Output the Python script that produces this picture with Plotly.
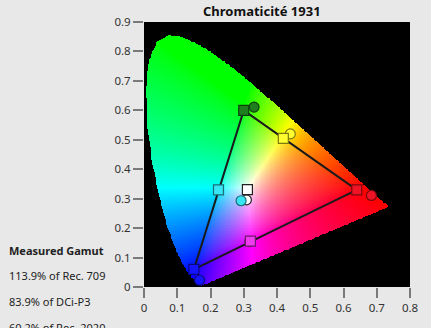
import numpy as np
import plotly.graph_objects as go

# CIE 1931 spectral locus (x, y), 380-700 nm at 5 nm
locus_x = [0.1741,0.1740,0.1738,0.1736,0.1733,0.1730,0.1726,0.1721,0.1714,0.1703,0.1689,0.1669,0.1644,0.1611,0.1566,0.1510,0.1440,0.1355,0.1241,0.1096,0.0913,0.0687,0.0454,0.0235,0.0082,0.0039,0.0139,0.0389,0.0743,0.1142,0.1547,0.1929,0.2296,0.2658,0.3016,0.3373,0.3731,0.4087,0.4441,0.4788,0.5125,0.5448,0.5752,0.6029,0.6270,0.6482,0.6658,0.6801,0.6915,0.7006,0.7079,0.7140,0.7190,0.7230,0.7260,0.7283,0.7300,0.7311,0.7320,0.7327,0.7334,0.7340,0.7344,0.7346,0.7347]
locus_y = [0.0050,0.0050,0.0049,0.0049,0.0048,0.0048,0.0048,0.0048,0.0051,0.0058,0.0069,0.0086,0.0109,0.0138,0.0177,0.0227,0.0297,0.0399,0.0578,0.0868,0.1327,0.2007,0.2950,0.4127,0.5384,0.6548,0.7502,0.8120,0.8338,0.8262,0.8059,0.7816,0.7543,0.7243,0.6923,0.6589,0.6245,0.5896,0.5547,0.5202,0.4866,0.4544,0.4242,0.3965,0.3725,0.3514,0.3340,0.3197,0.3083,0.2993,0.2920,0.2859,0.2809,0.2770,0.2740,0.2717,0.2700,0.2689,0.2680,0.2673,0.2666,0.2660,0.2656,0.2654,0.2653]

# Target (Rec.709) points: squares
target_names = ["Red", "Green", "Blue", "White", "Cyan", "Magenta", "Yellow"]
target_x = [0.640, 0.300, 0.150, 0.311, 0.224, 0.320, 0.419]
target_y = [0.330, 0.600, 0.060, 0.331, 0.330, 0.156, 0.505]
# Measured points: circles
measured_x = [0.684, 0.331, 0.167, 0.308, 0.292, 0.318, 0.440]
measured_y = [0.311, 0.611, 0.023, 0.296, 0.293, 0.154, 0.520]

fill_colors = ["#ee1426", "#1f7f1f", "#1414ff", "#ffffff", "#36e6f2", "#ee3cee", "#ffff30"]
edge_colors = ["#7a0a10", "#0c400c", "#0a0a80", "#222222", "#1a6d78", "#6e1a6e", "#7a7a10"]

# gamut triangle (Rec.709 primaries)
tri_x = [target_x[0], target_x[1], target_x[2], target_x[0]]
tri_y = [target_y[0], target_y[1], target_y[2], target_y[0]]

gamut_labels = ["Measured Gamut", "113.9% of Rec. 709", "83.9% of DCi-P3", "60.2% of Rec. 2020"]

# --- background chromaticity image ---
step = 0.0025
img_y_stretch = 1.027  # the reference backdrop bitmap is drawn slightly taller
gx = np.arange(0, 0.8 + 1e-9, step)
gy = np.arange(0, 0.9 / img_y_stretch + 1e-9, step)
X, Y = np.meshgrid(gx, gy)
px = np.array(locus_x); py = np.array(locus_y)
inside = np.zeros(X.shape, dtype=bool)
n = len(px)
for i in range(n):
    x1, y1 = px[i], py[i]
    x2, y2 = px[(i + 1) % n], py[(i + 1) % n]
    cond = ((y1 > Y) != (y2 > Y))
    with np.errstate(divide="ignore", invalid="ignore"):
        xint = (x2 - x1) * (Y - y1) / (y2 - y1 + 1e-12) + x1
    inside ^= cond & (X < xint)
Ys = np.where(Y > 1e-4, Y, 1e-4)
XX = X / Ys
ZZ = (1 - X - Y) / Ys
R = 3.2406 * XX - 1.5372 + -0.4986 * ZZ
G = -0.9689 * XX + 1.8758 + 0.0415 * ZZ
B = 0.0557 * XX - 0.2040 + 1.0570 * ZZ
rgb = np.stack([R, G, B], axis=-1)
rgb = np.clip(rgb, 0, None)
mx = rgb.max(axis=-1, keepdims=True)
mx[mx == 0] = 1
rgb = rgb / mx
rgb = rgb ** (1 / 1.4)
img = (rgb * 255).astype(np.uint8)
img[~inside] = 0

fig = go.Figure()
fig.add_trace(go.Image(z=img.tolist(), x0=0, y0=0, dx=step, dy=step * img_y_stretch, hoverinfo="skip"))
fig.add_trace(go.Scatter(x=tri_x, y=tri_y, mode="lines",
                         line=dict(color="#1a1a1a", width=2), hoverinfo="skip", showlegend=False))
fig.add_trace(go.Scatter(x=measured_x, y=measured_y, mode="markers", text=target_names,
                         marker=dict(symbol="circle", size=10, color=fill_colors,
                                     line=dict(color=edge_colors, width=1.2)), showlegend=False))
fig.add_trace(go.Scatter(x=target_x, y=target_y, mode="markers", text=target_names,
                         marker=dict(symbol="square", size=10, color=fill_colors,
                                     line=dict(color=edge_colors, width=1.2)), showlegend=False))

axis_common = dict(showgrid=False, zeroline=False, ticks="outside", ticklen=10, tickwidth=2,
                   tickcolor="#7a7a7a", showline=False, scaleanchor=False, constrain="range",
                   tickfont=dict(family="Noto Sans, Open Sans, sans-serif", size=11.5, color="#333333"))
fig.update_xaxes(range=[0, 0.8], autorange=False, tickvals=[0, 0.1, 0.2, 0.3, 0.4, 0.5, 0.6, 0.7, 0.8],
                 ticktext=["0", "0.1", "0.2", "0.3", "0.4", "0.5", "0.6", "0.7", "0.8"], **axis_common)
fig.update_yaxes(range=[0, 0.9], autorange=False, tickvals=[0, 0.1, 0.2, 0.3, 0.4, 0.5, 0.6, 0.7, 0.8, 0.9],
                 ticktext=["0", "0.1", "0.2", "0.3", "0.4", "0.5", "0.6", "0.7", "0.8", "0.9"], **axis_common)

W, H = 431, 328
ml, mr, mt, mb = 144, 21, 22, 41
pw, ph = W - ml - mr, H - mt - mb

def paper_x(pxv):
    return (pxv - ml) / pw

def paper_y(pyv):
    return (H - mb - pyv) / ph

annotations = [dict(text="<b>Chromaticité 1931</b>", x=paper_x(262), y=paper_y(11), xref="paper", yref="paper",
                    xanchor="center", yanchor="middle", showarrow=False,
                    font=dict(family="Noto Sans, Open Sans, sans-serif", size=13, color="#111111"))]
label_py = [250, 275, 301, 327]
for i, (t, yy) in enumerate(zip(gamut_labels, label_py)):
    annotations.append(dict(text=("<b>%s</b>" % t) if i == 0 else t, x=paper_x(7), y=paper_y(yy),
                            xref="paper", yref="paper", xanchor="left", yanchor="middle", showarrow=False,
                            font=dict(family="Noto Sans, Open Sans, sans-serif", size=11, color="#222222")))

fig.update_layout(width=W, height=H, margin=dict(l=ml, r=mr, t=mt, b=mb),
                  paper_bgcolor="#e8e8e8", plot_bgcolor="#000000",
                  annotations=annotations, showlegend=False)

fig.write_html("out.html")
